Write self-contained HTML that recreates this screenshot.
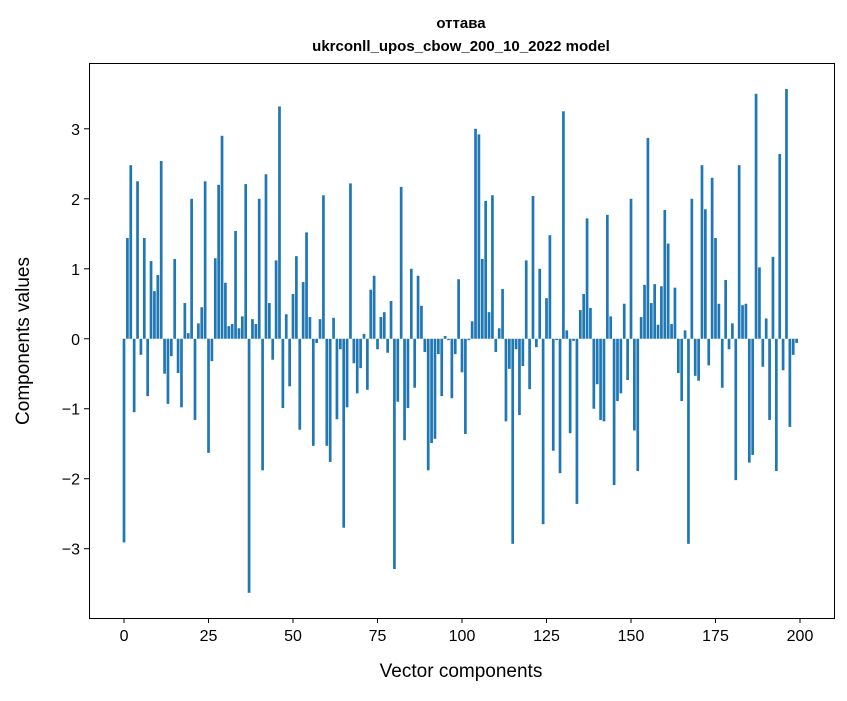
<!DOCTYPE html>
<html><head><meta charset="utf-8"><style>
body{margin:0;background:#fff;}
svg text{font-family:"Liberation Sans","DejaVu Sans",sans-serif;}
</style></head><body>
<svg id="chart" width="847" height="696" xmlns="http://www.w3.org/2000/svg">
<rect width="847" height="696" fill="#fff"/>
<text x="461" y="28" text-anchor="middle" font-size="15" font-weight="bold">оттава</text>
<text x="461" y="51" text-anchor="middle" font-size="15" font-weight="bold">ukrconll_upos_cbow_200_10_2022 model</text>
<g id="bars"></g>
<g id="xticks"></g>
<g id="yticks"></g>
<rect x="89.5" y="63.5" width="745" height="555" fill="none" stroke="#000" stroke-width="1"/>
<text x="461" y="677" text-anchor="middle" font-size="19">Vector components</text>
<text transform="translate(29,341) rotate(-90)" text-anchor="middle" font-size="19">Components values</text>
</svg>
<script>
const values = [-2.91,1.44,2.48,-1.05,2.25,-0.23,1.44,-0.82,1.11,0.68,
0.91,2.54,-0.50,-0.93,-0.25,1.14,-0.49,-0.98,0.51,0.08,
2.0,-1.16,0.22,0.45,2.25,-1.63,-0.32,1.15,2.20,2.90,
0.80,0.18,0.21,1.54,0.15,0.32,2.21,-3.63,0.28,0.21,
2.0,-1.88,2.35,0.51,-0.30,1.12,3.32,-0.99,0.35,-0.68,
0.64,1.18,-1.30,0.81,1.52,0.31,-1.53,-0.06,0.28,2.05,
-1.53,-1.76,0.30,-1.15,-0.15,-2.70,-0.98,2.22,-0.35,-0.78,
-0.42,0.07,-0.73,0.70,0.90,-0.15,0.31,0.38,-0.20,0.54,
-3.29,-0.90,2.17,-1.45,-0.99,1.0,-0.70,0.90,0.47,-0.19,
-1.88,-1.49,-1.43,-0.22,-0.82,0.04,-0.02,-0.85,-0.22,0.85,
-0.48,-1.36,-0.02,0.25,3.0,2.92,1.14,1.97,0.38,2.05,
-0.19,0.15,0.71,-1.18,-0.43,-2.93,-0.15,-1.09,-0.39,1.12,
-0.72,2.04,-0.12,1.0,-2.65,0.58,1.48,-1.60,-0.02,-1.92,
3.25,0.12,-1.35,-0.03,-2.36,0.41,0.64,1.72,0.44,-1.0,
-0.65,-1.16,-1.18,1.77,0.32,-2.09,-0.89,-0.78,0.50,-0.59,
2.0,-1.31,-1.89,0.31,0.77,2.87,0.51,0.78,0.20,0.75,
1.84,1.36,0.21,0.73,-0.49,-0.89,0.12,-2.93,2.0,-0.53,
-0.60,2.48,1.85,-0.38,2.30,1.44,0.50,-0.70,0.84,-0.15,
0.22,-2.02,2.48,0.48,0.50,-1.77,-1.66,3.50,1.02,-0.40,
0.29,-1.16,1.17,-1.89,2.64,-0.45,3.57,-1.26,-0.23,-0.06];
const xTickVals = [0,25,50,75,100,125,150,175,200];
const yTickVals = [-3,-2,-1,0,1,2,3];
const NS="http://www.w3.org/2000/svg";
const X0=89,X1=834,Y0=63,Y1=618;
const xMin=-10.36,xMax=210.06,yMin=-3.99,yMax=3.94;
function xs(v){return X0+(v-xMin)/(xMax-xMin)*(X1-X0);}
function ys(v){return Y1-(v-yMin)/(yMax-yMin)*(Y1-Y0);}
const bars=document.getElementById('bars');
values.forEach((v,i)=>{
  const r=document.createElementNS(NS,'rect');
  
  
  const xl=xs(i-0.4),xr=xs(i+0.4);
  const y=Math.min(ys(v),ys(0)),h=Math.abs(ys(v)-ys(0));
  r.setAttribute('x',xl);r.setAttribute('width',xr-xl);
  r.setAttribute('y',y);r.setAttribute('height',h);
  r.setAttribute('fill','#1f77b4');
  bars.appendChild(r);
});
const xg=document.getElementById('xticks');
xTickVals.forEach(t=>{
  const x=xs(t);
  const l=document.createElementNS(NS,'line');
  
  
  l.setAttribute('x1',x);l.setAttribute('x2',x);l.setAttribute('y1',618);l.setAttribute('y2',623);
  l.setAttribute('stroke','#000');
  xg.appendChild(l);
  const tx=document.createElementNS(NS,'text');
  
  
  tx.setAttribute('x',x);tx.setAttribute('y',641);tx.setAttribute('text-anchor','middle');tx.setAttribute('font-size','16');
  tx.textContent=String(t);
  xg.appendChild(tx);
});
const yg=document.getElementById('yticks');
yTickVals.forEach(t=>{
  const y=ys(t);
  const l=document.createElementNS(NS,'line');
  
  
  l.setAttribute('x1',84);l.setAttribute('x2',89);l.setAttribute('y1',y);l.setAttribute('y2',y);
  l.setAttribute('stroke','#000');
  yg.appendChild(l);
  const tx=document.createElementNS(NS,'text');
  
  
  tx.setAttribute('x',80);tx.setAttribute('y',y+6);tx.setAttribute('text-anchor','end');tx.setAttribute('font-size','16');
  tx.textContent=t<0?'\u2212'+Math.abs(t):String(t);
  yg.appendChild(tx);
});
</script>
</body></html>
